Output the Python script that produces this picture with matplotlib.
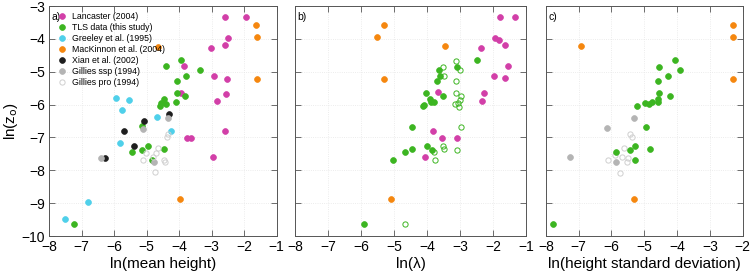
import numpy as np
import matplotlib
matplotlib.use("Agg")
import matplotlib.pyplot as plt

plt.rcParams['font.family'] = ['Liberation Sans', 'DejaVu Sans']

# panel a: ln(mean height) vs ln(z0)
lan_a_x = [-1.94, -2.59, -2.50, -2.60, -3.03, -3.86, -2.93, -2.53, -3.95, -2.85, -2.55, -2.60, -3.75, -3.64, -2.96]
lan_a_y = [-3.32, -3.34, -3.98, -4.17, -4.27, -4.83, -5.13, -5.21, -5.64, -5.88, -5.68, -6.81, -7.02, -7.02, -7.60]
tls_a_x = [-3.93, -4.39, -3.36, -3.80, -4.08, -4.07, -3.81, -4.11, -4.45, -4.55, -4.40, -4.60, -5.14, -4.95, -5.44, -5.14, -4.47, -4.84, -7.24]
tls_a_y = [-4.64, -4.83, -4.93, -5.13, -5.28, -5.64, -5.73, -5.93, -5.84, -5.96, -5.99, -6.04, -6.65, -7.25, -7.43, -7.39, -7.34, -7.69, -9.62]
gre_a_x = [-5.93, -5.55, -5.77, -4.68, -4.24, -5.83, -6.79, -7.50]
gre_a_y = [-5.79, -5.85, -6.17, -6.39, -6.81, -7.18, -8.97, -9.47]
mac_a_x = [-4.65, -1.63, -1.62, -1.62, -3.96]
mac_a_y = [-4.23, -3.59, -3.94, -5.22, -8.87]
xia_a_x = [-4.30, -5.08, -5.71, -5.39, -6.27]
xia_a_y = [-6.27, -6.51, -6.81, -7.26, -7.61]
ssp_a_x = [-4.35, -5.11, -6.39, -4.78]
ssp_a_y = [-6.42, -6.73, -7.61, -7.76]
pro_a_x = [-4.38, -4.35, -4.65, -4.72, -5.11, -5.03, -4.81, -4.45, -4.42, -4.75]
pro_a_y = [-6.98, -6.89, -7.33, -7.48, -7.69, -7.47, -7.58, -7.69, -7.74, -8.04]

# panel b: ln(lambda)
lan_b_x = [-1.35, -1.80, -1.94, -1.82, -1.64, -2.36, -1.54, -1.98, -1.63, -3.66, -2.29, -2.34, -3.83, -3.55, -3.10, -4.06]
lan_b_y = [-3.32, -3.34, -3.98, -4.03, -4.17, -4.27, -4.83, -5.13, -5.20, -5.63, -5.66, -5.88, -6.81, -7.02, -7.02, -7.59]
tls_b_x = [-5.91, -4.45, -5.04, -4.67, -4.45, -4.00, -3.85, -3.65, -3.60, -3.71, -3.09, -2.49, -4.03, -3.91, -3.87, -3.80, -4.10, -4.12, -3.53]
tls_b_y = [-9.62, -6.67, -7.68, -7.44, -7.34, -7.25, -7.39, -4.93, -5.13, -5.29, -4.84, -4.64, -5.64, -5.83, -5.93, -5.92, -6.01, -6.04, -5.73]
tlo_b_x = [-3.53, -3.49, -3.14, -3.01, -3.14, -3.12, -2.96, -3.01, -3.15, -3.07, -3.05, -2.96, -3.52, -3.48, -3.79, -3.09, -3.76, -4.68]
tlo_b_y = [-4.84, -5.13, -4.66, -4.95, -5.29, -5.64, -5.73, -5.87, -5.99, -5.94, -6.06, -6.68, -7.27, -7.34, -7.43, -7.39, -7.69, -9.62]
mac_b_x = [-5.30, -5.51, -3.46, -5.29, -5.10]
mac_b_y = [-3.59, -3.94, -4.22, -5.22, -8.88]

# panel c: ln(height standard deviation)
tls_c_x = [-7.77, -4.06, -4.56, -3.90, -4.27, -4.59, -4.55, -4.21, -4.59, -4.59, -4.75, -4.87, -4.97, -5.21, -4.95, -5.28, -4.82, -5.44, -5.87, -5.29]
tls_c_y = [-9.62, -4.65, -4.84, -4.93, -5.13, -5.29, -5.64, -5.73, -5.83, -5.92, -5.92, -5.99, -5.94, -6.04, -6.68, -7.25, -7.34, -7.39, -7.44, -7.69]
mac_c_x = [-6.92, -2.30, -2.30, -2.30, -5.30]
mac_c_y = [-4.22, -3.59, -3.94, -5.22, -8.88]
ssp_c_x = [-5.32, -6.13, -7.27, -5.85]
ssp_c_y = [-6.42, -6.72, -7.60, -7.76]
pro_c_x = [-5.43, -5.38, -5.61, -5.69, -6.12, -5.53, -5.74, -5.89, -5.49]
pro_c_y = [-6.89, -6.98, -7.33, -7.58, -7.69, -7.74, -8.07, -7.53, -7.63]

MAG = '#d23fa8'
GRN = '#3cb521'
CYN = '#4fd0ea'
ORG = '#f5870f'
BLK = '#1e1e1e'
GRY = '#b4b4b4'
PRO = '#cfcfcf'

fig = plt.figure(figsize=(7.54, 2.78), dpi=100)
ax_a = fig.add_axes([0.065, 0.151, 0.302, 0.827])
ax_b = fig.add_axes([0.391, 0.151, 0.307, 0.827])
ax_c = fig.add_axes([0.724, 0.151, 0.261, 0.827])

ms = 4.2

def dots(ax, x, y, c, label=None):
    ax.plot(x, y, 'o', color=c, ms=ms, mec=c, mew=0.5, label=label, zorder=3)

def rings(ax, x, y, c, label=None):
    ax.plot(x, y, 'o', mfc='none', mec=c, ms=ms * 0.9, mew=0.7, label=label, zorder=3)

dots(ax_a, lan_a_x, lan_a_y, MAG, 'Lancaster (2004)')
dots(ax_a, tls_a_x, tls_a_y, GRN, 'TLS data (this study)')
dots(ax_a, gre_a_x, gre_a_y, CYN, 'Greeley et al. (1995)')
dots(ax_a, mac_a_x, mac_a_y, ORG, 'MacKinnon et al. (2004)')
dots(ax_a, xia_a_x, xia_a_y, BLK, 'Xian et al. (2002)')
dots(ax_a, ssp_a_x, ssp_a_y, GRY, 'Gillies ssp (1994)')
rings(ax_a, pro_a_x, pro_a_y, PRO, 'Gillies pro (1994)')

dots(ax_b, lan_b_x, lan_b_y, MAG)
rings(ax_b, tlo_b_x, tlo_b_y, GRN)
dots(ax_b, tls_b_x, tls_b_y, GRN)
dots(ax_b, mac_b_x, mac_b_y, ORG)

rings(ax_c, pro_c_x, pro_c_y, PRO)
dots(ax_c, ssp_c_x, ssp_c_y, GRY)
dots(ax_c, tls_c_x, tls_c_y, GRN)
dots(ax_c, mac_c_x, mac_c_y, ORG)

for ax, xmax, tag in [(ax_a, -1, 'a)'), (ax_b, -1, 'b)'), (ax_c, -2, 'c)')]:
    ax.set_xlim(-8, xmax)
    ax.set_ylim(-10, -3)
    ax.set_xticks(np.arange(-8, xmax + 1))
    ax.set_yticks(np.arange(-10, -2))
    ax.tick_params(direction='in', top=True, right=True, length=4, width=0.6,
                   labelsize=10, pad=3, color='#555555')
    ax.grid(True, ls=':', lw=0.6, color='#e6e6e6')
    for s in ax.spines.values():
        s.set_linewidth(0.7)
        s.set_color('#555555')
    ax.text(0.012, 0.975, tag, transform=ax.transAxes, ha='left', va='top', fontsize=7.5)

ax_b.set_yticklabels([])
ax_c.set_yticklabels([])

ax_a.set_ylabel('ln(z$_\\mathrm{o}$)', fontsize=11, labelpad=1)
ax_a.set_xlabel('ln(mean height)', fontsize=11, labelpad=2)
ax_b.set_xlabel('ln(λ)', fontsize=11, labelpad=2)
ax_c.set_xlabel('ln(height standard deviation)', fontsize=11, labelpad=2)

ax_a.legend(loc='upper left', bbox_to_anchor=(0.01, 1.0), frameon=False, fontsize=6.3,
            handletextpad=0.7, labelspacing=0.22, handlelength=1.0, borderaxespad=0.3)

fig.savefig('out.png', dpi=100)
